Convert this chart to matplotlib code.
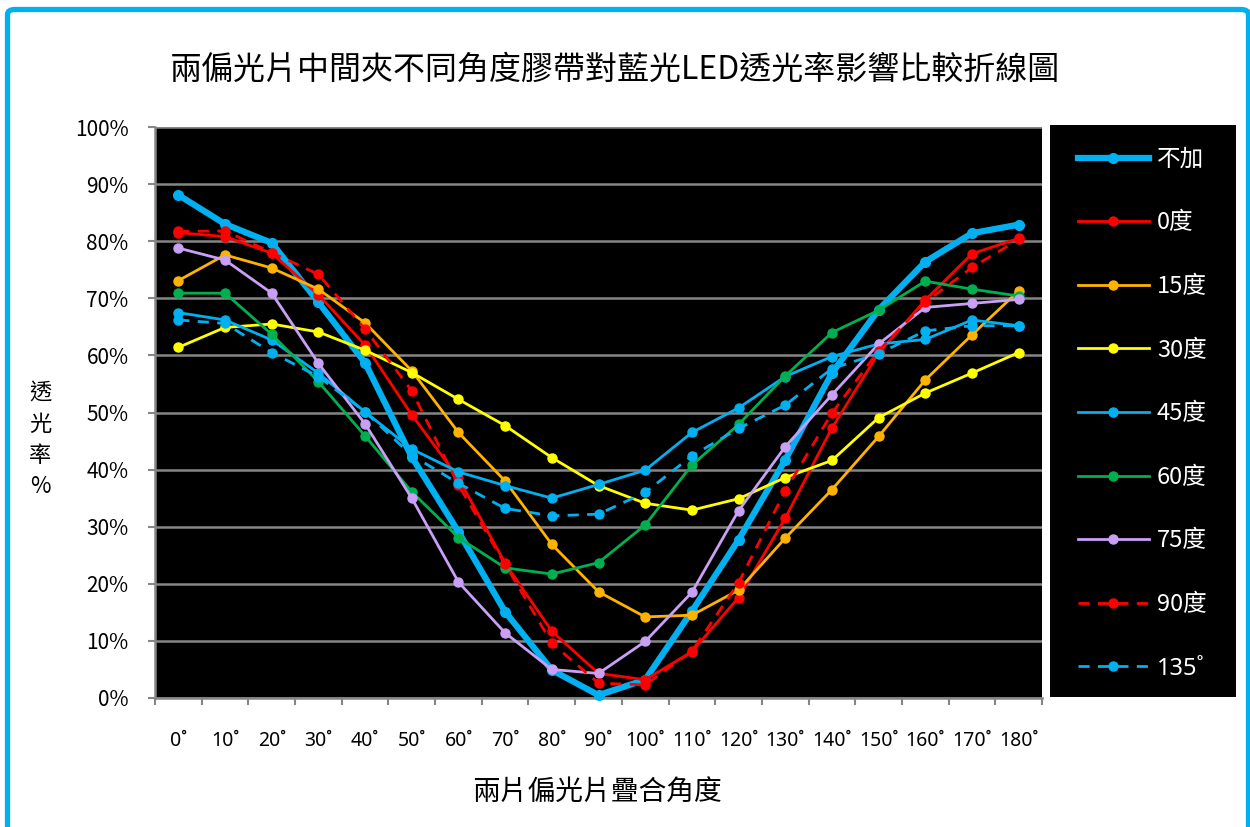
import matplotlib
matplotlib.use("Agg")
import matplotlib.pyplot as plt
from matplotlib.patches import Rectangle, FancyBboxPatch
from matplotlib.ticker import FixedLocator, FuncFormatter

plt.rcParams["font.family"] = ["Noto Sans CJK TC", "DejaVu Sans"]
LATIN = ["Noto Sans", "DejaVu Sans"]

# 兩片偏光片疊合角度 (度)
angles = list(range(0, 181, 10))
angle_labels = [f"{a}˚" for a in angles]

# 透光率 (%)
no_tape = [88.1, 83.0, 79.7, 69.3, 58.7, 42.2, 29.1, 15.1, 4.9, 0.5,
           3.2, 15.2, 27.7, 41.7, 56.9, 68.0, 76.4, 81.4, 82.9]
tape_0 = [81.5, 80.8, 77.9, 70.6, 61.8, 49.6, 38.5, 23.6, 11.7, 4.3,
          3.2, 8.1, 17.6, 31.5, 47.3, 60.4, 69.7, 77.8, 80.5]
tape_15 = [73.1, 77.6, 75.3, 71.6, 65.7, 57.3, 46.5, 38.0, 26.9, 18.6,
           14.2, 14.5, 18.9, 28.0, 36.5, 45.8, 55.7, 63.6, 71.3]
tape_30 = [61.4, 64.9, 65.5, 64.1, 60.9, 57.0, 52.3, 47.7, 42.1, 37.2,
           34.1, 32.9, 34.9, 38.6, 41.6, 49.1, 53.4, 56.9, 60.5]
tape_45 = [67.5, 66.2, 62.7, 56.9, 50.1, 43.6, 39.6, 37.2, 35.0, 37.4,
           39.9, 46.5, 50.8, 56.3, 59.8, 62.0, 62.8, 66.2, 65.2]
tape_60 = [70.9, 70.9, 63.7, 55.4, 45.9, 36.1, 28.1, 22.8, 21.7, 23.7,
           30.3, 40.8, 47.9, 56.4, 64.0, 67.9, 73.0, 71.6, 70.4]
tape_75 = [78.8, 76.7, 70.9, 58.6, 48.0, 35.0, 20.3, 11.4, 5.0, 4.3,
           9.9, 18.5, 32.8, 44.0, 53.1, 62.0, 68.4, 69.1, 69.8]
tape_90 = [81.7, 81.8, 78.0, 74.2, 64.6, 53.8, 37.3, 23.4, 9.6, 2.6,
           2.3, 8.2, 20.2, 36.3, 49.9, 60.8, 69.3, 75.4, 80.3]
tape_135 = [66.2, 65.6, 60.5, 56.3, 50.1, 42.5, 37.6, 33.2, 31.9, 32.2,
            36.0, 42.4, 47.2, 51.3, 57.7, 60.3, 64.3, 65.2, 65.2]

BLUE = "#00B0F0"
dash = (0, (4, 3))
series = [
    ("不加", no_tape, BLUE, "-", 4.5, 7),
    ("0度", tape_0, "#FF0000", "-", 2.0, 6.5),
    ("15度", tape_15, "#FFB300", "-", 2.0, 6.5),
    ("30度", tape_30, "#FFFF00", "-", 2.0, 6.5),
    ("45度", tape_45, BLUE, "-", 2.0, 6.5),
    ("60度", tape_60, "#00B050", "-", 2.0, 6.5),
    ("75度", tape_75, "#C9A0F5", "-", 2.0, 6.5),
    ("90度", tape_90, "#FF0000", dash, 2.0, 6.5),
    ("135˚", tape_135, BLUE, dash, 2.0, 6.5),
]

fig = plt.figure(figsize=(12.5, 8.27), dpi=100)
W, H = 1250, 827

# 外框
fig.patches.append(FancyBboxPatch((7.5 / W, -0.05), (1248.5 - 7.5) / W, 1 - 9.5 / H + 0.05,
                                  boxstyle="round,pad=0,rounding_size=0.006",
                                  transform=fig.transFigure, fill=False,
                                  edgecolor=BLUE, linewidth=3.8, zorder=-2))
# 圖例底色
fig.patches.append(Rectangle((1050 / W, 1 - 697 / H), (1236 - 1050) / W, (697 - 125) / H,
                             transform=fig.transFigure, facecolor="black",
                             edgecolor="none", zorder=-1))

ax = fig.add_axes([155 / W, 1 - 698 / H, (1042 - 155) / W, (698 - 127) / H])
ax.set_facecolor("black")
x = list(range(len(angles)))
for label, vals, color, ls, lw, ms in series:
    ax.plot(x, vals, color=color, linestyle=ls, linewidth=lw, marker="o",
            markersize=ms, label=label, clip_on=False, zorder=3)

ax.set_xlim(-0.5, len(angles) - 0.5)
ax.set_ylim(0, 100)
ax.set_axisbelow(True)

# 類別軸：刻度在格線之間，標籤置中
ax.xaxis.set_major_locator(FixedLocator([i - 0.5 for i in range(len(angles) + 1)]))
ax.xaxis.set_major_formatter(FuncFormatter(lambda v, p: ""))
ax.xaxis.set_minor_locator(FixedLocator(x))
ax.set_xticklabels(angle_labels, minor=True, family=LATIN)
ax.tick_params(axis="x", which="major", length=5, width=1.5, color="#868686", direction="out")
ax.tick_params(axis="x", which="minor", length=0, pad=24, labelsize=14)

ax.set_yticks(range(0, 101, 10))
ax.yaxis.set_major_formatter(FuncFormatter(lambda v, p: f"{int(v)}%"))
ax.tick_params(axis="y", length=5, width=1.5, color="#868686", pad=14, labelsize=15)
ax.grid(axis="y", color="#868686", linewidth=1.8)

for side in ("top", "right"):
    ax.spines[side].set_visible(False)
for side in ("left", "bottom"):
    ax.spines[side].set_color("#868686")
    ax.spines[side].set_linewidth(1.8)

leg = ax.legend(loc="upper left", bbox_to_anchor=(1066 / W, 1 - 136 / H),
                bbox_transform=fig.transFigure, frameon=False, fontsize=17,
                handlelength=3.0, handletextpad=0.35, labelspacing=1.72,
                borderpad=0)
for t in leg.get_texts():
    t.set_color("white")
    t.set_family(["Noto Sans CJK TC", "Noto Sans", "DejaVu Sans"])
leg.get_texts()[-1].set_family(LATIN)

fig.text(615 / W, 1 - 70 / H, "兩偏光片中間夾不同角度膠帶對藍光LED透光率影響比較折線圖",
         ha="center", va="center", fontsize=23)
fig.text(597 / W, 1 - 792 / H, "兩片偏光片疊合角度", ha="center", va="center", fontsize=20)
fig.text(40 / W, 1 - 440 / H, "透\n光\n率\n%", ha="center", va="center",
         fontsize=16, linespacing=1.45)

fig.savefig("out.png", dpi=100)
